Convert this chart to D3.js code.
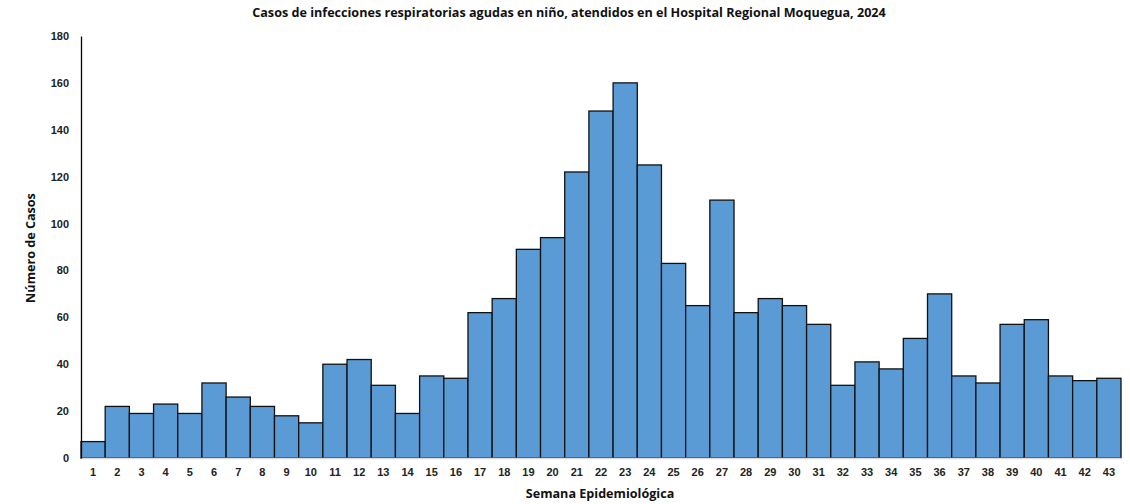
<!DOCTYPE html>
<html lang="es">
<head>
    <meta charset="UTF-8">
    <title>Casos de IRA en niño - Hospital Regional Moquegua 2024</title>
    <script src="https://d3js.org/d3.v7.min.js"></script>
    <style>
        body {
            margin: 0;
            background: #fff;
            font-family: "Open Sans", Arial, sans-serif;
        }
        .tick text {
            font-size: 11px;
            font-weight: bold;
            fill: #222;
        }
        .title {
            font-size: 12.6px;
            font-weight: bold;
            fill: #111;
        }
        .axis-title {
            font-size: 12.6px;
            font-weight: bold;
            fill: #111;
        }
    </style>
</head>
<body>
<svg width="1130" height="504"></svg>
<script>
    const weeks = d3.range(1, 44);
    const cases = [7, 22, 19, 23, 19, 32, 26, 22, 18, 15, 40, 42, 31, 19, 35, 34, 62, 68, 89, 94,
                   122, 148, 160, 125, 83, 65, 110, 62, 68, 65, 57, 31, 41, 38, 51, 70, 35, 32, 57, 59,
                   35, 33, 34];
    const yTicks = [0, 20, 40, 60, 80, 100, 120, 140, 160, 180];

    const data = weeks.map((w, i) => ({ week: w, value: cases[i] }));

    const svg = d3.select("svg"),
          margin = { top: 36, right: 9, bottom: 46, left: 81 },
          width = +svg.attr("width") - margin.left - margin.right,
          height = +svg.attr("height") - margin.top - margin.bottom,
          g = svg.append("g").attr("transform", `translate(${margin.left},${margin.top})`);

    const x = d3.scaleBand()
                .domain(weeks)
                .range([0, width])
                .padding(0);

    const y = d3.scaleLinear()
                .domain([0, 180])
                .range([height, 0]);

    // bars
    g.selectAll(".bar")
        .data(data)
        .enter().append("rect")
        .attr("class", "bar")
        .attr("x", d => x(d.week))
        .attr("y", d => y(d.value))
        .attr("width", x.bandwidth())
        .attr("height", d => height - y(d.value))
        .attr("fill", "#5B9BD5")
        .attr("stroke", "#111")
        .attr("stroke-width", 1.3);

    // x axis
    const xAxis = g.append("g")
        .attr("transform", `translate(0,${height})`)
        .call(d3.axisBottom(x).tickSize(0).tickPadding(10));
    xAxis.select(".domain").attr("stroke", "#d9d9d9").attr("stroke-width", 1.5);

    // y axis
    const yAxis = g.append("g")
        .call(d3.axisLeft(y).tickValues(yTicks).tickSize(0).tickPadding(12));
    yAxis.select(".domain").attr("stroke", "#000").attr("stroke-width", 1.3);

    svg.append("text")
        .attr("class", "title")
        .attr("x", 569)
        .attr("y", 17)
        .attr("text-anchor", "middle")
        .text("Casos de infecciones respiratorias agudas en niño, atendidos en el Hospital Regional Moquegua, 2024");

    svg.append("text")
        .attr("class", "axis-title")
        .attr("x", 600)
        .attr("y", 498)
        .attr("text-anchor", "middle")
        .text("Semana Epidemiológica");

    svg.append("text")
        .attr("class", "axis-title")
        .attr("transform", "translate(35,248) rotate(-90)")
        .attr("text-anchor", "middle")
        .text("Número de Casos");
</script>
</body>
</html>
